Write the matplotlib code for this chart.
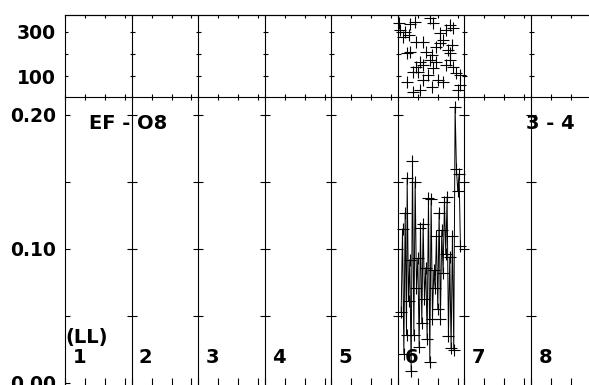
import numpy as np
import matplotlib
matplotlib.use("Agg")
import matplotlib.pyplot as plt

# === data ===
days = [1, 2, 3, 4, 5, 6, 7, 8]
day_labels = ["1", "2", "3", "4", "5", "6", "7", "8"]

# upper panel: scattered '+' points (day, value)
top_x = [6.02, 6.03, 6.08, 6.11, 6.16, 6.19, 6.26, 6.48, 6.53, 6.78, 6.83, 6.73,
         6.63, 6.68, 6.63, 6.81, 6.76, 6.28, 6.38, 6.18, 6.43, 6.51, 6.33, 6.48,
         6.58, 6.28, 6.38, 6.78, 6.83, 6.23, 6.31, 6.88, 6.93, 6.13, 6.38, 6.61,
         6.68, 6.51, 6.23, 6.33, 6.91, 6.53, 6.46, 6.78, 6.13, 6.57, 6.72, 6.93]
top_y = [340, 309, 279, 301, 286, 336, 347, 362, 340, 332, 317, 309,
         294, 264, 249, 241, 218, 256, 256, 210, 210, 196, 165, 173,
         165, 142, 150, 173, 142, 120, 120, 112, 105, 74, 82, 82,
         74, 49, 29, 36, 36, 135, 105, 203, 203, 232, 150, 60]

# lower panel: zig-zag series (day, value)
bot_x = [6.05, 6.07, 6.09, 6.11, 6.13, 6.14, 6.16, 6.18, 6.20, 6.22, 6.24, 6.26,
         6.28, 6.30, 6.32, 6.34, 6.36, 6.38, 6.40, 6.42, 6.44, 6.46, 6.48, 6.50,
         6.52, 6.54, 6.56, 6.58, 6.60, 6.62, 6.64, 6.66, 6.68, 6.70, 6.72, 6.74,
         6.76, 6.78, 6.80, 6.82, 6.84, 6.86, 6.88, 6.90, 6.92, 6.94]
bot_y = [0.053, 0.115, 0.022, 0.127, 0.036, 0.153, 0.061, 0.092, 0.009, 0.166, 0.036, 0.150,
         0.071, 0.093, 0.027, 0.116, 0.045, 0.119, 0.063, 0.086, 0.033, 0.138, 0.016, 0.137,
         0.048, 0.084, 0.071, 0.110, 0.055, 0.127, 0.048, 0.114, 0.082, 0.135, 0.096, 0.139,
         0.035, 0.094, 0.026, 0.110, 0.025, 0.206, 0.160, 0.143, 0.156, 0.102]

top_major = [100, 300]
top_minor = [200]
bot_major = [0.0, 0.1, 0.2]
bot_minor = [0.05, 0.15]

plt.rcParams['font.family'] = ['DejaVu Sans']
plt.rcParams['font.weight'] = 'bold'

fig = plt.figure(figsize=(5.89, 3.85), dpi=100)
W, H = 589, 385
x0, px_per_day = 65, 66.57
right_px = 592
left = x0 / W
width = (right_px - x0) / W
xlim = (1, 1 + (right_px - x0) / px_per_day)

# lower panel first so the upper panel's bottom line stays on top
ax_bot = fig.add_axes([left, (H - 388) / H, width, (388 - 97) / H])
ax_top = fig.add_axes([left, (H - 97) / H, width, (97 - 15) / H])
ax_top.patch.set_alpha(0)

minor_x = [d + f for d in days for f in (0.3, 0.6, 0.9)]

# --- upper panel ---
ax_top.set_xlim(*xlim)
ax_top.set_ylim(5, 377)
ax_top.spines['right'].set_visible(False)
ax_top.set_xticks(days)
ax_top.set_xticks(minor_x, minor=True)
ax_top.tick_params(axis='x', which='both', bottom=True, top=False, direction='inout',
                   length=5, width=0.8, labelbottom=False)
sec = ax_top.secondary_xaxis('top')
sec.set_xticks(days)
sec.set_xticks(minor_x, minor=True)
sec.tick_params(axis='x', which='both', direction='in', length=2.5, width=0.8, labeltop=False)
ax_top.set_yticks(top_major)
ax_top.set_yticklabels(["100", "300"])
ax_top.set_yticks(top_minor, minor=True)
ax_top.tick_params(axis='y', which='both', direction='in', length=2.5, width=0.8,
                   pad=6.5, labelsize=13.5)
for d in days[1:]:
    ax_top.axvline(d, color='black', lw=0.8, zorder=1)
    ax_top.plot([d] * 3, top_major + top_minor, ls='none', marker='_', ms=3.6,
                mew=0.8, color='black', zorder=1)
ax_top.plot(top_x, top_y, ls='none', marker='+', ms=8.5, mew=0.8, color='black', zorder=3)

# --- lower panel ---
ax_bot.set_xlim(*xlim)
ax_bot.set_ylim(-5 / 1340, 0.2 + 18 / 1340)
ax_bot.spines['right'].set_visible(False)
ax_bot.spines['top'].set_visible(False)
ax_bot.set_xticks(days)
ax_bot.set_xticks(minor_x, minor=True)
ax_bot.tick_params(axis='x', which='both', bottom=True, top=False, direction='in',
                   length=7, width=0.8, labelbottom=False)
ax_bot.set_yticks(bot_major)
ax_bot.set_yticklabels(["0.00", "0.10", "0.20"])
ax_bot.set_yticks(bot_minor, minor=True)
ax_bot.tick_params(axis='y', which='both', direction='in', length=3.6, width=0.8,
                   pad=6.5, labelsize=13.5)
for d in days[1:]:
    ax_bot.axvline(d, color='black', lw=0.8, zorder=1)
    ax_bot.plot([d] * 4, [0.05, 0.1, 0.15, 0.2], ls='none', marker='_', ms=7.5,
                mew=0.8, color='black', zorder=1)
ax_bot.plot(bot_x, bot_y, color='black', lw=0.7, marker='+', ms=8.5, mew=0.8, zorder=3)

for d, lab in zip(days, day_labels):
    ax_bot.text(d + 0.11, 0.015, lab, fontsize=14, fontweight='bold', ha='left', va='baseline')
ax_bot.text(1.01, 0.030, "(LL)", fontsize=14, fontweight='bold', ha='left', va='baseline')
ax_bot.text(1.36, 0.1896, "EF - O8", fontsize=14, fontweight='bold', ha='left', va='baseline')
ax_bot.text(7.92, 0.1896, "3 - 4", fontsize=14, fontweight='bold', ha='left', va='baseline')

fig.savefig("out.png", dpi=100)
